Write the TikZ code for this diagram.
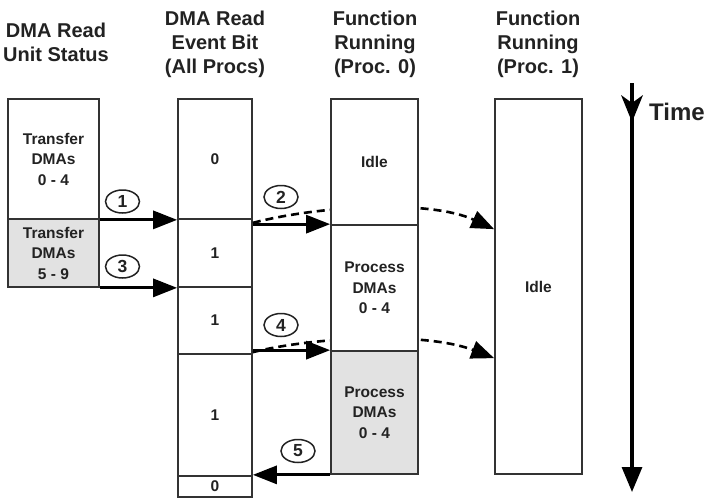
\documentclass[tikz,border=0pt]{standalone}
\usepackage{fontspec}
\setmainfont{Liberation Sans}
\usetikzlibrary{arrows.meta,calc,shapes.geometric}
\definecolor{ink}{HTML}{222222}
\definecolor{boxc}{HTML}{333333}
\definecolor{shade}{HTML}{E2E2E2}
\newcommand\myhead{\fontsize{20}{24}\selectfont\bfseries}
\newcommand\myinner{\fontsize{15.5}{20.5}\selectfont\bfseries}
\newcommand\mynum{\fontsize{17.5}{20}\selectfont\bfseries}
\begin{document}
\begin{tikzpicture}[x=1pt,y=-1pt,
  box/.style={draw=boxc, line width=1.7pt, fill=white, inner sep=0pt, align=center, font=\myinner, text=ink},
  grey/.style={fill=shade},
  hdr/.style={align=center, font=\myhead, text=ink, inner sep=0pt},
  num/.style={draw=ink, line width=1.5pt, ellipse, minimum width=34pt, minimum height=23pt, inner sep=0pt, font=\mynum, text=ink},
  arr/.style={draw=black, line width=3pt, -{Triangle[length=24pt,width=18pt]}},
  darr/.style={draw=black, line width=2.6pt, dash pattern=on 8pt off 5pt, -{Triangle[length=23pt,width=18pt]}},
  tarr/.style={draw=black, line width=3.2pt, -{Triangle[length=25pt,width=20pt]}}
]
\useasboundingbox (0,0) rectangle (714,498);

% headers
\node[hdr] (h1) at (56,42) {DMA Read\\Unit Status};
\node[hdr] (h2) at (215,44) {DMA Read\\Event Bit\\(All Procs)};
\node[hdr] (h3) at (375,44) {Function\\Running\\(Proc. 0)};
\node[hdr] (h4) at (538,44) {Function\\Running\\(Proc. 1)};

% column 1: DMA read unit status
\node[box, minimum width=91pt, minimum height=120pt] (c1a) at (53.5,159) {Transfer\\DMAs\\0 - 4};
\node[box, grey, minimum width=91pt, minimum height=68pt] (c1b) at (53.5,253) {Transfer\\DMAs\\5 - 9};

% column 2: event bit
\node[box, minimum width=74pt, minimum height=120pt] (b1) at (215,159) {0};
\node[box, minimum width=74pt, minimum height=68pt] (b2) at (215,253) {1};
\node[box, minimum width=74pt, minimum height=67pt] (b3) at (215,320.5) {1};
\node[box, minimum width=74pt, minimum height=122pt] (b4) at (215,415) {1};
\node[box, minimum width=74pt, minimum height=21pt] (b5) at (215,486.5) {0};

% column 4: proc 1
\node[box, minimum width=87pt, minimum height=375pt] (q) at (538.5,286.5) {Idle};

% dashed notifications (pass behind proc 0 column)
\draw[darr] ([yshift=-3pt]b1.south east) .. controls +(65,-17) and +(-65,-30) .. ($(q.north west)+(0,131)$);
\draw[darr] ([yshift=1pt]b4.north east) .. controls +(65,-16) and +(-67,-26) .. ($(q.north west)+(0,260)$);

% column 3: proc 0
\node[box, minimum width=87pt, minimum height=126pt] (p1) at (374.5,162) {Idle};
\node[box, minimum width=87pt, minimum height=126pt] (p2) at (374.5,288) {Process\\DMAs\\0 - 4};
\node[box, grey, minimum width=87pt, minimum height=123pt] (p3) at (374.5,412.5) {Process\\DMAs\\0 - 4};

% solid arrows
\draw[arr] (c1a.south east) -- (b1.south west);
\draw[arr] (c1b.south east) -- (b2.south west |- c1b.south);
\draw[arr] (b2.east |- p2.north) -- (p2.north west);
\draw[arr] (b4.east |- p3.north) -- (p3.north west);
\draw[arr] (p3.south west) -- (b5.east |- p3.south);

% step numbers
\node[num] (n1) at (122.5,201.5) {1};
\node[num] (n2) at (281,197) {2};
\node[num] (n3) at (122.5,266.5) {3};
\node[num] (n4) at (281,325) {4};
\node[num] (n5) at (298,451) {5};

% time axis
\coordinate (ttop) at (632,83);
\coordinate (tbot) at (632,492);
\draw[tarr] (ttop) -- (tbot);
\fill[black] (632,122) -- (621,95) -- (632,103) -- (643,95) -- cycle;
\node[font=\fontsize{24}{28}\selectfont\bfseries, text=ink, anchor=west, inner sep=0pt] (time) at (649,112) {Time};
\end{tikzpicture}
\end{document}
